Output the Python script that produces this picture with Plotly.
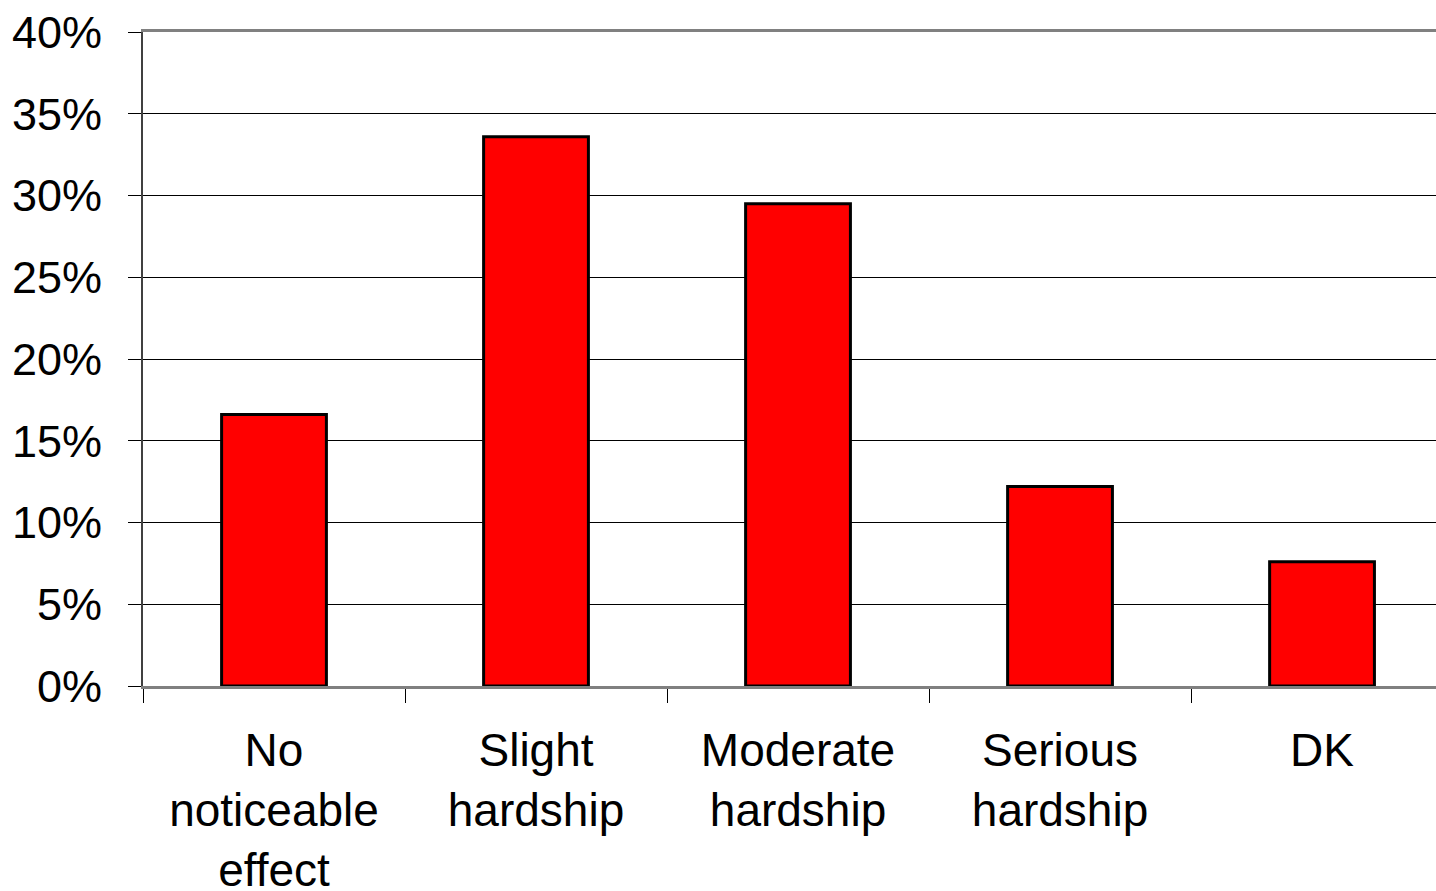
import plotly.graph_objects as go

categories = ["No<br>noticeable<br>effect", "Slight<br>hardship", "Moderate<br>hardship", "Serious<br>hardship", "DK"]
values = [16.6, 33.6, 29.5, 12.2, 7.6]
y_ticks = [0, 5, 10, 15, 20, 25, 30, 35, 40]
y_tick_labels = [f"{v}%" for v in y_ticks]

fig = go.Figure()
fig.add_trace(go.Bar(
    x=categories, y=values, width=0.4,
    marker=dict(color="#FF0000", line=dict(color="#000000", width=3)),
))

font = "Liberation Sans, Arial, sans-serif"
fig.update_layout(
    width=1436, height=891,
    margin=dict(l=143, r=0, t=32, b=205, autoexpand=False),
    paper_bgcolor="white", plot_bgcolor="white",
    showlegend=False,
    font=dict(family=font, size=46, color="black"),
    xaxis=dict(
        type="category",
        range=[-0.5, 4.435],
        tickson="boundaries",
        ticks="outside", ticklen=14, tickwidth=1, tickcolor="black",
        showline=True, linecolor="#808080", linewidth=3, mirror=True,
        showgrid=False,
        automargin=False,
        tickfont=dict(family=font, size=46, color="black"),
        ticklabelstandoff=22,
        ticklabeloverflow="allow",
    ),
    yaxis=dict(
        range=[0, 40],
        tickvals=y_ticks, ticktext=y_tick_labels,
        ticks="outside", ticklen=13, tickwidth=1, tickcolor="black",
        showline=True, linecolor="#404040", linewidth=2,
        showgrid=True, gridcolor="black", gridwidth=1,
        zeroline=False,
        automargin=False,
        tickfont=dict(family=font, size=45, color="black"),
        ticklabelstandoff=17,
        ticklabeloverflow="allow",
    ),
)

fig.write_html(
    "out.html",
    config={"displayModeBar": False},
    post_script="document.body.style.margin='0';document.body.style.overflow='hidden';",
)
